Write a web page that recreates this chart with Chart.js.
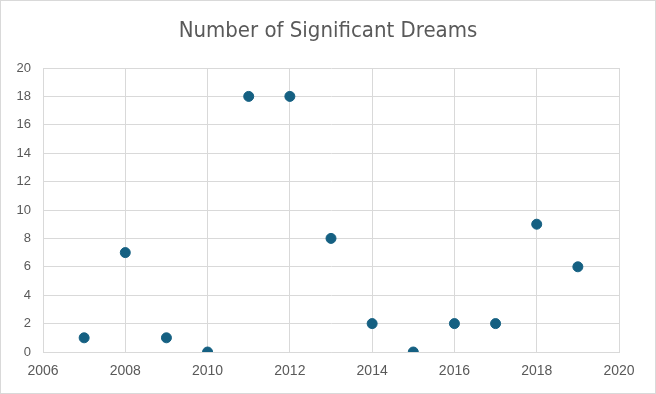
<!DOCTYPE html>
<html lang="en">
<head>
<meta charset="UTF-8">
<title>Number of Significant Dreams</title>
<script src="https://cdn.jsdelivr.net/npm/chart.js@4.4.0/dist/chart.umd.min.js"></script>
<style>
  html, body { margin: 0; padding: 0; background: #fff; }
  #wrap { position: relative; width: 654px; height: 392px; border: 1px solid #d9d9d9; }
  #title {
    position: absolute; left: 0; top: 16px; width: 100%;
    text-align: center; color: #595959;
    font-family: 'Liberation Sans Narrow', 'DejaVu Sans Condensed', 'Roboto', sans-serif;
    font-size: 22px; line-height: 26px;
  }
</style>
</head>
<body>
<div id="wrap">
  <div id="title">Number of Significant Dreams</div>
  <canvas id="myChart"></canvas>
</div>
<script>
// dane
const years  = [2007, 2008, 2009, 2010, 2011, 2012, 2013, 2014, 2015, 2016, 2017, 2018, 2019];
const dreams = [1, 7, 1, 0, 18, 18, 8, 2, 0, 2, 2, 9, 6];

const xMin = 2006, xMax = 2020, xStep = 2;
const yMin = 0, yMax = 20, yStep = 2;

const points = years.map((y, i) => ({ x: y, y: dreams[i] }));

const textColor = '#595959';
const gridColor = '#d9d9d9';

const config = {
  type: 'scatter',
  data: {
    datasets: [{
      label: 'Dreams',
      data: points,
      backgroundColor: '#156082',
      borderColor: '#156082',
      pointRadius: 5,
      pointHoverRadius: 5
    }]
  },
  options: {
    responsive: true,
    maintainAspectRatio: false,
    animation: false,
    // tytul jest w HTML, tu tylko miejsce na niego
    layout: { padding: { left: 0, right: 36, top: 67, bottom: 9 } },
    plugins: {
      legend: { display: false },
      tooltip: { enabled: false },
      title: { display: false }
    },
    scales: {
      x: {
        type: 'linear',
        min: xMin, max: xMax,
        ticks: {
          stepSize: xStep,
          color: textColor,
          padding: 11,
          font: { family: "'Liberation Sans', sans-serif", size: 14 },
          callback: v => String(v)
        },
        grid: { color: gridColor, drawTicks: false },
        border: { color: gridColor },
        afterFit: s => { s.height = 32; }
      },
      y: {
        min: yMin, max: yMax,
        ticks: {
          stepSize: yStep,
          color: textColor,
          padding: 12,
          font: { family: "'Liberation Sans', sans-serif", size: 13 }
        },
        grid: { color: gridColor, drawTicks: false },
        border: { color: gridColor },
        afterFit: s => { s.width = 42; }
      }
    }
  }
};

new Chart(document.getElementById('myChart'), config);
</script>
</body>
</html>
